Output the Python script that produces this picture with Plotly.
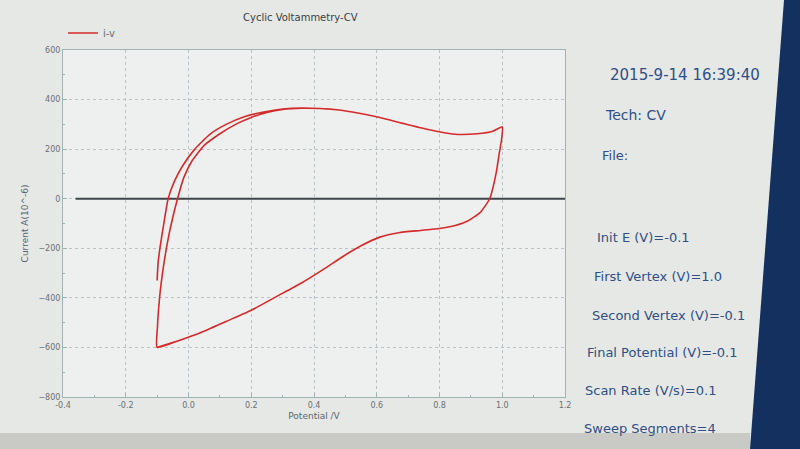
import plotly.graph_objects as go

# potential (V) and current (10^-6 A), two cycles (4 sweep segments)
potential = [-0.1, -0.097, -0.09, -0.078, -0.065, -0.045, -0.02, 0.02, 0.07, 0.12, 0.18, 0.24, 0.3, 0.36, 0.42,
             0.48, 0.54, 0.61, 0.68, 0.76, 0.85, 0.92, 0.97, 1.0,
             0.998, 0.99, 0.98, 0.96, 0.93, 0.89, 0.85, 0.8, 0.74, 0.67, 0.61, 0.55, 0.49, 0.43, 0.36, 0.28,
             0.2, 0.12, 0.04, -0.03, -0.1,
             -0.099, -0.095, -0.088, -0.077, -0.063, -0.05, -0.035, -0.015, 0.01, 0.05, 0.1, 0.15, 0.2, 0.25,
             0.3, 0.36, 0.42, 0.48, 0.54, 0.61, 0.68, 0.76, 0.85, 0.92, 0.97, 1.0,
             0.998, 0.99, 0.98, 0.96, 0.93, 0.89, 0.85, 0.8, 0.74, 0.67, 0.61, 0.55, 0.49, 0.43, 0.36, 0.28,
             0.2, 0.12, 0.04, -0.03, -0.1]
current = [-330, -260, -190, -95, 0, 70, 130, 200, 262, 300, 332, 350, 362, 366, 364,
           358, 346, 328, 305, 280, 260, 262, 272, 290,
           240, 180, 100, 0, -55, -90, -108, -120, -128, -137, -155, -190, -235, -285, -340, -395,
           -450, -495, -540, -572, -600,
           -520, -440, -350, -250, -150, -75, 0, 85, 150, 215, 262, 300, 328, 348,
           360, 365, 364, 358, 346, 328, 305, 280, 260, 262, 272, 290,
           240, 180, 100, 0, -55, -90, -108, -120, -128, -137, -155, -190, -235, -285, -340, -395,
           -450, -495, -540, -572, -600]

x_ticks = [-0.4, -0.2, 0.0, 0.2, 0.4, 0.6, 0.8, 1.0, 1.2]
x_tick_text = ["-0.4", "-0.2", "0.0", "0.2", "0.4", "0.6", "0.8", "1.0", "1.2"]
y_ticks = [-800, -600, -400, -200, 0, 200, 400, 600]

info_lines = ["2015-9-14 16:39:40", "Tech: CV", "File:", "Init E (V)=-0.1", "First Vertex (V)=1.0",
              "Second Vertex (V)=-0.1", "Final Potential (V)=-0.1", "Scan Rate (V/s)=0.1", "Sweep Segments=4"]
info_y = [75, 115, 155, 237, 276, 315, 352, 390, 428]
info_x = [608, 603, 600, 595, 592, 590, 585, 583, 582]
info_size = [15, 14, 13, 13, 13, 13, 13, 13, 13]

fig = go.Figure()

# zero line
fig.add_trace(go.Scatter(x=[-0.36, 1.2], y=[0, 0], mode="lines",
                         line=dict(color="#3c4448", width=2), showlegend=False, hoverinfo="skip"))

fig.add_trace(go.Scatter(x=potential, y=current, mode="lines", name="i-v",
                         line=dict(color="#d42a2a", width=1.6, shape="spline", smoothing=0.5)))

axis_common = dict(showgrid=True, gridcolor="#b9c2c4", griddash="dot", gridwidth=1,
                   showline=True, linecolor="#9fb2b4", linewidth=1, mirror=True,
                   ticks="inside", ticklen=4, tickcolor="#9fb2b4",
                   minor=dict(ticks="inside", ticklen=2, tickcolor="#9fb2b4", nticks=5),
                   tickfont=dict(family="DejaVu Sans", size=8, color="#6a6f73"),
                   zeroline=False)

fig.update_xaxes(range=[-0.4, 1.2], tickvals=x_ticks, ticktext=x_tick_text,
                 title=dict(text="Potential /V", font=dict(family="DejaVu Sans", size=9, color="#5a6470"),
                            standoff=4),
                 **axis_common)
fig.update_yaxes(range=[-800, 600], tickvals=y_ticks,
                 title=dict(text="Current A(10^-6)", font=dict(family="DejaVu Sans", size=9, color="#5a6470"),
                            standoff=8),
                 **axis_common)

for text, px, py, size in zip(info_lines, info_x, info_y, info_size):
    fig.add_annotation(text=text, xref="paper", yref="paper",
                       x=(px - 63) / 502, y=(397 - py) / 347,
                       xanchor="left", yanchor="middle", showarrow=False,
                       font=dict(family="DejaVu Sans", size=size, color="#2f4f86"))

fig.add_annotation(text="Cyclic Voltammetry-CV", xref="paper", yref="paper",
                   x=(300 - 63) / 502, y=(397 - 18) / 347, xanchor="center", yanchor="middle",
                   showarrow=False, font=dict(family="DejaVu Sans", size=10, color="#3a3f44"))

# screen edges seen in the photo (right bezel leans with the camera angle)
xt, xb = (784 - 63) / 502, (750 - 63) / 502
x_right = (800 - 63) / 502
yt, yb = 397 / 347, -52 / 347
fig.add_shape(type="path", xref="paper", yref="paper",
              path=f"M {xt} {yt} L {x_right} {yt} L {x_right} {yb} L {xb} {yb} Z",
              fillcolor="#14305e", line_width=0, layer="below")
fig.add_shape(type="rect", xref="paper", yref="paper", x0=(0 - 63) / 502, x1=xb,
              y0=yb, y1=(397 - 433) / 347, fillcolor="#c9cac6", line_width=0, layer="below")

fig.update_layout(
    width=800, height=449,
    margin=dict(l=63, r=235, t=50, b=52),
    paper_bgcolor="#e6e8e6",
    plot_bgcolor="#eef0ef",
    font=dict(family="DejaVu Sans"),
    legend=dict(x=0.0, y=(397 - 33) / 347, xanchor="left", yanchor="middle",
                bgcolor="rgba(0,0,0,0)", font=dict(size=10, color="#6a6f73")),
)

fig.write_html("out.html", config={"displayModeBar": False},
               post_script="document.body.style.margin = '0';")
